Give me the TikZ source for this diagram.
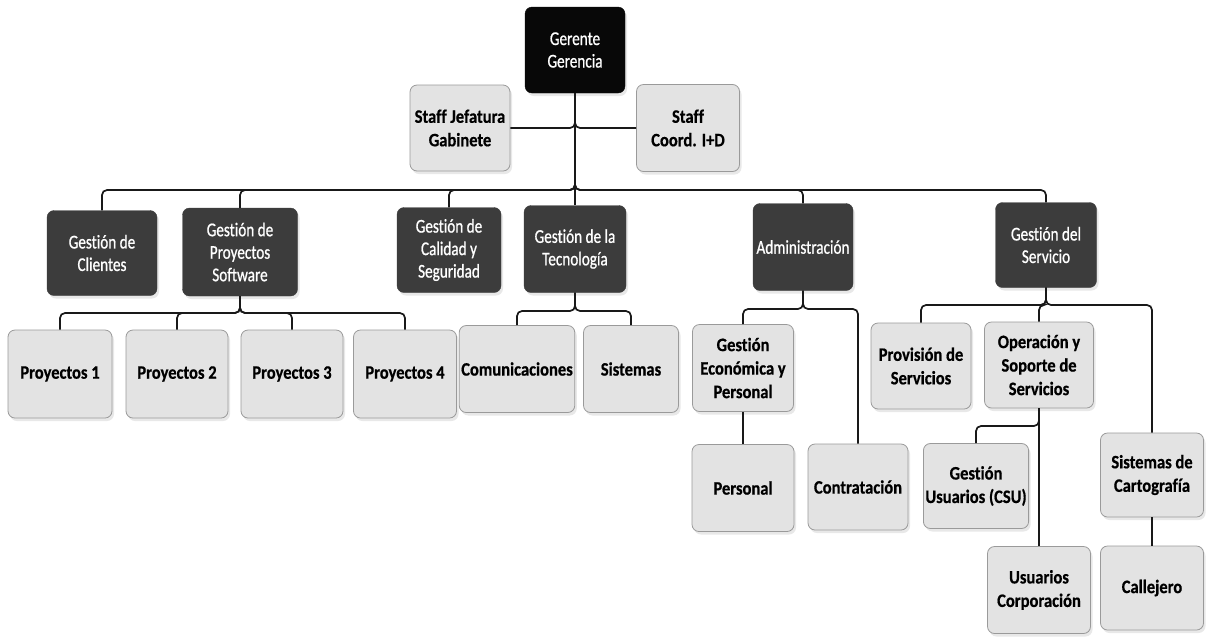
\documentclass[tikz,border=0pt]{standalone}
\usepackage{fontspec}
\setmainfont{Carlito}
\newfontfamily\regfont[FakeStretch=0.78,FakeBold=0.8,Ligatures={NoCommon,NoContextual}]{Carlito}
\newfontfamily\boldfont[FakeStretch=0.87,FakeBold=0.6,Ligatures={NoCommon,NoContextual}]{Carlito}
\usetikzlibrary{shadows}
\definecolor{darkfill}{HTML}{3C3C3C}
\definecolor{topfill}{HTML}{080808}
\definecolor{lightfill}{HTML}{E3E3E3}
\definecolor{lightedge}{HTML}{9A9A9A}
\begin{document}
\begin{tikzpicture}[x=1pt,y=-1pt,
  box/.style={rectangle, rounded corners=7pt, align=center, inner sep=2pt,
    drop shadow={shadow xshift=2pt, shadow yshift=-3pt, opacity=0.18}},
  darkbox/.style={box, fill=darkfill, draw=darkfill, text=white,
    font=\regfont\fontsize{19.5}{22.5}\selectfont},
  topbox/.style={darkbox, fill=topfill, draw=topfill},
  lightbox/.style={box, fill=lightfill, draw=lightedge, line width=0.8pt, text=black,
    font=\boldfont\bfseries\fontsize{19}{23.5}\selectfont},
  conn/.style={line width=1.7pt, rounded corners=5pt, black!90}
]
\fill[white] (0,0) rectangle (1214,641);
\useasboundingbox (0,0) rectangle (1214,641);

% top level
\node[topbox, minimum width=100, minimum height=86] (ger) at (575,50) {Gerente\\Gerencia};
\node[lightbox, minimum width=100, minimum height=86] (sj) at (460,128) {Staff Jefatura\\Gabinete};
\node[lightbox, minimum width=103, minimum height=87] (sc) at (688,128) {Staff\\Coord. I+D};

% second level
\node[darkbox, minimum width=110, minimum height=85] (cli) at (102,253) {Gestión de\\Clientes};
\node[darkbox, minimum width=115, minimum height=88] (gps) at (240,252) {Gestión de\\Proyectos\\Software};
\node[darkbox, minimum width=104, minimum height=85] (cal) at (449,250) {Gestión de\\Calidad y\\Seguridad};
\node[darkbox, minimum width=102, minimum height=87] (tec) at (575,249) {Gestión de la\\Tecnología};
\node[darkbox, minimum width=100, minimum height=87] (adm) at (803,247) {Administración};
\node[darkbox, minimum width=101, minimum height=85] (ser) at (1046,245) {Gestión del\\Servicio};

% third level
\node[lightbox, minimum width=104, minimum height=88] (p1) at (60,374) {Proyectos 1};
\node[lightbox, minimum width=102, minimum height=88] (p2) at (177,374) {Proyectos 2};
\node[lightbox, minimum width=102, minimum height=88] (p3) at (292,374) {Proyectos 3};
\node[lightbox, minimum width=103, minimum height=88] (p4) at (405,374) {Proyectos 4};
\node[lightbox, minimum width=110, minimum height=87] (com) at (517,369) {Comunicaciones};
\node[lightbox, minimum width=95, minimum height=87] (sis) at (631,369) {Sistemas};
\node[lightbox, minimum width=101, minimum height=87] (eco) at (743,368) {Gestión\\Económica y\\Personal};
\node[lightbox, minimum width=100, minimum height=86] (pro) at (921,366) {Provisión de\\Servicios};
\node[lightbox, minimum width=109, minimum height=86] (ope) at (1039,365) {Operación y\\Soporte de\\Servicios};

% fourth level
\node[lightbox, minimum width=102, minimum height=87] (per) at (743,488) {Personal};
\node[lightbox, minimum width=100, minimum height=86] (con) at (858,487) {Contratación};
\node[lightbox, minimum width=102, minimum height=85] (csu) at (976,486) {Gestión\\Usuarios (CSU)};
\node[lightbox, minimum width=103, minimum height=84] (car) at (1152,475) {Sistemas de\\Cartografía};
\node[lightbox, minimum width=103, minimum height=87] (uc) at (1039,590) {Usuarios\\Corporación};
\node[lightbox, minimum width=103, minimum height=84] (cj) at (1152,588) {Callejero};

% junction points
\coordinate (bus) at (575,190);
\coordinate (gpsb) at (240,313);
\coordinate (tecb) at (575,311);
\coordinate (admb) at (803,309);
\coordinate (serb) at (1046,305);
\coordinate (opeb) at (1039,426);

% staff
\draw[conn] (ger.south) |- (sj.east);
\draw[conn] (ger.south) |- (sc.west);
% main bus
\foreach \c in {cli,gps,cal,adm,ser}
  \draw[conn] (ger.south) -- (bus) -| (\c.north);
\draw[conn] (ger.south) -- (tec.north);
% projects
\foreach \c in {p1,p2,p3,p4}
  \draw[conn] (gps.south) -- (gpsb) -| (\c.north);
% technology
\foreach \c in {com,sis}
  \draw[conn] (tec.south) -- (tecb) -| (\c.north);
% administration
\foreach \c in {eco,con}
  \draw[conn] (adm.south) -- (admb) -| (\c.north);
\draw[conn] (eco.south) -- (per.north);
% service
\foreach \c in {pro,ope,car}
  \draw[conn] (ser.south) -- (serb) -| (\c.north);
\draw[conn] (ope.south) -- (uc.north);
\draw[conn] (ope.south) -- (opeb) -| (csu.north);
\draw[conn] (car.south) -- (cj.north);
\end{tikzpicture}
\end{document}
